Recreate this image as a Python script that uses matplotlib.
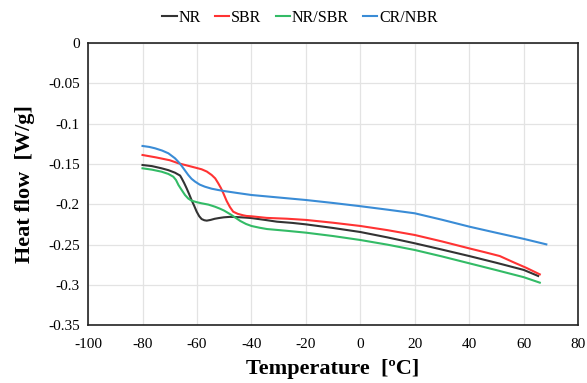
import numpy as np
import matplotlib.pyplot as plt

plt.rcParams['font.family'] = ['Liberation Serif', 'DejaVu Serif']
plt.rcParams['axes.unicode_minus'] = False

# DSC curves: temperature (C) and heat flow (W/g) for each rubber
t_nr = [-80, -76.5, -73, -70.5, -68.1, -66.2, -65.6, -64.7, -63.8, -62.9, -62,
        -61, -60.1, -59.2, -58.3, -57.3, -56.4, -55, -53.5, -52, -50.2, -47.9,
        -45.3, -41.8, -40, -35, -30.6, -25, -20, -10, 0, 10, 20, 30, 40, 50, 60,
        65.3]
hf_nr = [-0.1514, -0.1528, -0.1555, -0.1578, -0.1609, -0.1645, -0.168, -0.1738,
         -0.1803, -0.1873, -0.1948, -0.2022, -0.2093, -0.2148, -0.2184, -0.2199,
         -0.2204, -0.2195, -0.2181, -0.2172, -0.2163, -0.2157, -0.2160, -0.2167,
         -0.2172, -0.2195, -0.2217, -0.2232, -0.2250, -0.2295, -0.2345, -0.2412,
         -0.2485, -0.2563, -0.2643, -0.2727, -0.2815, -0.2890]

t_sbr = [-80, -75, -70, -66.8, -62.5, -58.3, -56.4, -54.6, -53.3, -52.2, -51.2,
         -50.3, -49.1, -47.9, -46.7, -45, -43, -41.8, -40, -34.4, -27, -20, -10,
         0, 10, 20, 30, 40, 46, 51.2, 56.1, 61, 65.9]
hf_sbr = [-0.1390, -0.1420, -0.1455, -0.1493, -0.1530, -0.1567, -0.1595,
          -0.1638, -0.1680, -0.1740, -0.1800, -0.1865, -0.1960, -0.2035,
          -0.2093, -0.2120, -0.2138, -0.2146, -0.2150, -0.2170, -0.2180,
          -0.2195, -0.2230, -0.2270, -0.2322, -0.2382, -0.2462, -0.2548,
          -0.2598, -0.2643, -0.2718, -0.2790, -0.2870]

t_blend = [-80, -76.5, -73, -70.5, -68.7, -67.7, -66.8, -65.6, -64.4, -63.2,
           -62, -60.1, -58.3, -55.8, -53.4, -51.6, -50, -47.5, -44.1, -42, -40,
           -37, -34.3, -27, -20, -10, 0, 10, 20, 30, 40, 50, 60, 65.9]
hf_blend = [-0.1555, -0.1572, -0.1597, -0.1625, -0.1659, -0.1700, -0.1762,
            -0.1825, -0.1886, -0.1930, -0.1956, -0.1975, -0.1989, -0.2005,
            -0.2031, -0.2055, -0.2080, -0.2130, -0.2208, -0.2245, -0.2270,
            -0.2292, -0.2308, -0.2330, -0.2353, -0.2395, -0.2444, -0.2502,
            -0.2568, -0.2648, -0.2733, -0.2818, -0.2905, -0.2973]

t_cr = [-80, -77.5, -75.4, -72.8, -70.5, -68.1, -66.8, -65.6, -64.4, -63.2,
        -62, -60.7, -59, -57.1, -54.6, -52.2, -50.2, -45, -40, -30, -20, -10, 0,
        10, 20, 30, 40.2, 50, 60, 68.3]
hf_cr = [-0.1278, -0.1290, -0.1307, -0.1335, -0.1369, -0.1430, -0.1476,
         -0.1526, -0.1582, -0.1638, -0.1685, -0.1720, -0.1757, -0.1783, -0.1808,
         -0.1824, -0.1836, -0.1862, -0.1886, -0.1917, -0.1948, -0.1985,
         -0.2025, -0.2068, -0.2113, -0.2193, -0.2280, -0.2355, -0.2430, -0.2498]

fig = plt.figure(figsize=(5.87, 3.83), dpi=100)
ax = fig.add_axes([0.150, 0.151, 0.835, 0.737])

ax.plot(t_nr, hf_nr, color='#333333', lw=1.5, label='NR')
ax.plot(t_sbr, hf_sbr, color='#ff3333', lw=1.5, label='SBR')
ax.plot(t_blend, hf_blend, color='#33bb66', lw=1.5, label='NR/SBR')
ax.plot(t_cr, hf_cr, color='#3a8cd6', lw=1.5, label='CR/NBR')

ax.set_xlim(-100, 80)
ax.set_ylim(-0.35, 0)
ax.set_xticks(np.arange(-100, 81, 20))
ax.set_yticks(np.arange(-0.35, 0.001, 0.05))
ax.set_yticklabels(['-0.35', '-0.3', '-0.25', '-0.2', '-0.15', '-0.1', '-0.05', '0'])
ax.grid(True, color='#e3e3e3', lw=0.9)
ax.set_axisbelow(True)
ax.tick_params(axis='y', length=0, labelsize=11, pad=6)
ax.tick_params(axis='x', length=0, labelsize=11, pad=9)
for s in ax.spines.values():
    s.set_color('#222222')
    s.set_linewidth(1.2)

ax.set_xlabel('Temperature  [ºC]', fontsize=16, fontweight='bold', labelpad=6)
ax.set_ylabel('Heat flow  [W/g]', fontsize=16, fontweight='bold', labelpad=9)

fig.legend(loc='center', bbox_to_anchor=(0.511, 0.953), ncol=4, frameon=False,
           fontsize=11.5, handlelength=0.9, handletextpad=0.1, columnspacing=0.9,
           borderaxespad=0)

fig.savefig('out.png', dpi=100)
